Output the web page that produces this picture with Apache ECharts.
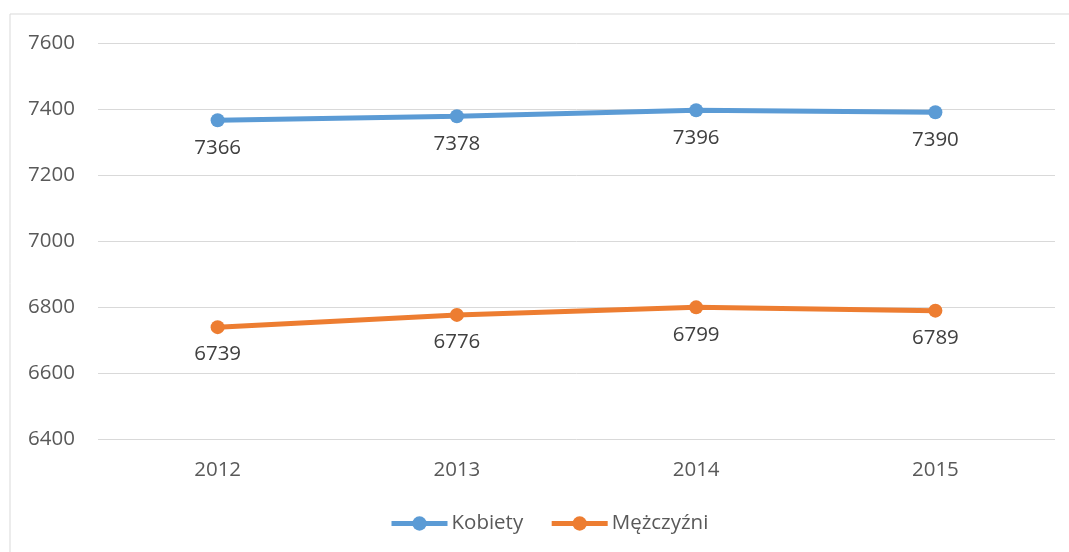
<!DOCTYPE html>
<html>
<head>
<meta charset="utf-8">
<script src="https://cdn.jsdelivr.net/npm/echarts@6/dist/echarts.min.js"></script>
<style>
  html, body { margin: 0; padding: 0; background: #fff; }
  #chart { width: 1069px; height: 552px; }
</style>
</head>
<body>
<div id="chart"></div>
<script>
const years = ["2012", "2013", "2014", "2015"];
const kobiety = [7366, 7378, 7396, 7390];
const mezczyzni = [6739, 6776, 6799, 6789];

const textColor = "#595959";
const font = "'Open Sans', 'Liberation Sans', sans-serif";
const fs = 20.5;

let myChart = echarts.init(document.getElementById("chart"));

// wspolne ustawienia serii
const makeSeries = (name, data, color) => ({
  name: name,
  type: "line",
  data: data,
  symbol: "circle",
  symbolSize: 14,
  lineStyle: { width: 5, color: color },
  itemStyle: { color: color },
  label: {
    show: true,
    position: "bottom",
    distance: 10,
    color: "#404040",
    fontSize: fs,
    fontFamily: font,
  },
  animation: false,
});

myChart.setOption({
  backgroundColor: "#fff",
  graphic: [
    {
      type: "rect",
      shape: { x: 10, y: 14, width: 1080, height: 560 },
      style: { fill: "none", stroke: "#d9d9d9", lineWidth: 1 },
      silent: true,
    },
  ],
  grid: { left: 98, right: 14, top: 43, bottom: 113 },
  legend: {
    bottom: 13,
    left: 384,
    itemWidth: 56,
    itemHeight: 18,
    itemGap: 26,
    lineStyle: { width: 5 },
    textStyle: { color: textColor, fontSize: fs, fontFamily: font, padding: [0, 0, 0, -1] },
    data: ["Kobiety", "Mężczyźni"],
  },
  xAxis: {
    type: "category",
    data: years,
    boundaryGap: true,
    axisLine: { show: false },
    axisTick: { show: false },
    axisLabel: { color: textColor, fontSize: fs, fontFamily: font, margin: 21 },
  },
  yAxis: {
    type: "value",
    min: 6400,
    max: 7600,
    interval: 200,
    axisLine: { show: false },
    axisTick: { show: false },
    axisLabel: {
      color: textColor,
      fontSize: fs,
      fontFamily: font,
      margin: 23,
      formatter: (v) => String(v),
    },
    splitLine: { lineStyle: { color: "#d9d9d9", width: 1 } },
  },
  series: [
    makeSeries("Kobiety", kobiety, "#5b9bd5"),
    makeSeries("Mężczyźni", mezczyzni, "#ed7d31"),
  ],
});
</script>
</body>
</html>
